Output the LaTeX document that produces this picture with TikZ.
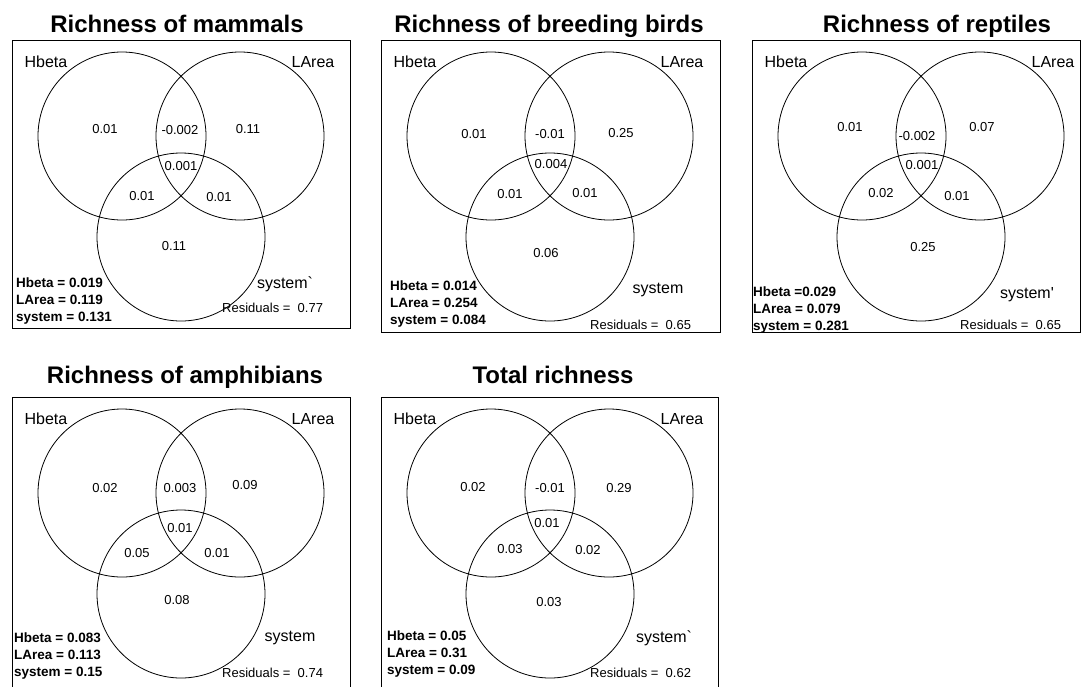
\documentclass[tikz,border=0pt]{standalone}
\usepackage{fontspec}
\setmainfont{Liberation Sans}
\usetikzlibrary{positioning}

% box, title, three circles and the two upper labels of one panel
% #1 prefix, #2 title, #3 box width, #4 box height, #5/#6 title position
\newcommand{\vennframe}[6]{%
  \node[panel, minimum width=#3, minimum height=#4] (#1box) at (0,0) {};
  \node[ttl] (#1title) at (#5,#6) {#2};
  \node[ring] (#1H) at (110,96) {};
  \node[ring] (#1L) at (228,96) {};
  \node[ring] (#1S) at (169,197) {};
  \node[lbl] (#1hb) at (34,22) {Hbeta};
  \node[lbl] (#1la) at (301,22) {LArea};
}

\begin{document}
\begin{tikzpicture}[x=1pt, y=-1pt,
  panel/.style={rectangle, draw, line width=1pt, anchor=north west, inner sep=0pt},
  ring/.style={circle, draw, line width=0.8pt, minimum size=168pt, inner sep=0pt},
  ttl/.style={anchor=base, inner sep=0pt, font=\fontsize{24}{28}\selectfont\bfseries},
  lbl/.style={inner sep=0pt, font=\fontsize{16}{19}\selectfont},
  val/.style={inner sep=0pt, font=\fontsize{13}{15}\selectfont},
  leg/.style={anchor=west, align=left, inner sep=0pt, font=\fontsize{13.5}{17}\selectfont\bfseries},
  res/.style={anchor=west, inner sep=0pt, font=\fontsize{13}{15}\selectfont}
]
  \useasboundingbox[fill=white] (0,0) rectangle (1081,686);

  % mammals
  \begin{scope}[shift={(12,40)}]
    \vennframe{m}{Richness of mammals}{338pt}{288pt}{165}{-8}
    \node[val] (m1) at (93,89) {0.01};
    \node[val] (m2) at (168,90) {-0.002};
    \node[val] (m3) at (236,89) {0.11};
    \node[val] (m4) at (169,126) {0.001};
    \node[val] (m5) at (130,156) {0.01};
    \node[val] (m6) at (207,157) {0.01};
    \node[val] (m7) at (162,206) {0.11};
    \node[lbl] (msys) at (273,244) {system\textasciigrave};
    \node[leg] (mleg) at (4,261) {Hbeta = 0.019\\LArea = 0.119\\system = 0.131};
    \node[res] (mres) at (210,268) {Residuals = \ 0.77};
  \end{scope}

  % breeding birds
  \begin{scope}[shift={(381,40)}]
    \vennframe{b}{Richness of breeding birds}{339pt}{292pt}{168}{-8}
    \node[val] (b1) at (93,94) {0.01};
    \node[val] (b2) at (169,94) {-0.01};
    \node[val] (b3) at (240,93) {0.25};
    \node[val] (b4) at (170,124) {0.004};
    \node[val] (b5) at (129,154) {0.01};
    \node[val] (b6) at (204,153) {0.01};
    \node[val] (b7) at (165,213) {0.06};
    \node[lbl] (bsys) at (277,250) {system};
    \node[leg] (bleg) at (9,264) {Hbeta = 0.014\\LArea = 0.254\\system = 0.084};
    \node[res] (bres) at (209,285) {Residuals = \ 0.65};
  \end{scope}

  % reptiles
  \begin{scope}[shift={(752,40)}]
    \vennframe{r}{Richness of reptiles}{328pt}{292pt}{185}{-8}
    \node[val] (r1) at (98,87) {0.01};
    \node[val] (r2) at (165,96) {-0.002};
    \node[val] (r3) at (230,87) {0.07};
    \node[val] (r4) at (170,125) {0.001};
    \node[val] (r5) at (129,153) {0.02};
    \node[val] (r6) at (205,156) {0.01};
    \node[val] (r7) at (171,207) {0.25};
    \node[lbl] (rsys) at (275,255) {system\textquotesingle};
    \node[leg] (rleg) at (1,270) {Hbeta =0.029\\LArea = 0.079\\system = 0.281};
    \node[res] (rres) at (208,285) {Residuals = \ 0.65};
  \end{scope}

  % amphibians
  \begin{scope}[shift={(12,397)}]
    \vennframe{a}{Richness of amphibians}{338pt}{293pt}{173}{-14}
    \node[val] (a1) at (93,91) {0.02};
    \node[val] (a2) at (168,91) {0.003};
    \node[val] (a3) at (233,88) {0.09};
    \node[val] (a4) at (168,131) {0.01};
    \node[val] (a5) at (125,156) {0.05};
    \node[val] (a6) at (205,156) {0.01};
    \node[val] (a7) at (165,203) {0.08};
    \node[lbl] (asys) at (278,241) {system};
    \node[leg] (aleg) at (2,259) {Hbeta = 0.083\\LArea = 0.113\\system = 0.15};
    \node[res] (ares) at (210,276) {Residuals = \ 0.74};
  \end{scope}

  % total
  \begin{scope}[shift={(381,397)}]
    \vennframe{t}{Total richness}{337pt}{293pt}{172}{-14}
    \node[val] (t1) at (92,90) {0.02};
    \node[val] (t2) at (169,91) {-0.01};
    \node[val] (t3) at (238,91) {0.29};
    \node[val] (t4) at (166,126) {0.01};
    \node[val] (t5) at (129,152) {0.03};
    \node[val] (t6) at (207,153) {0.02};
    \node[val] (t7) at (168,205) {0.03};
    \node[lbl] (tsys) at (283,241) {system\textasciigrave};
    \node[leg] (tleg) at (6,257) {Hbeta = 0.05\\LArea = 0.31\\system = 0.09};
    \node[res] (tres) at (209,276) {Residuals = \ 0.62};
  \end{scope}
\end{tikzpicture}
\end{document}
